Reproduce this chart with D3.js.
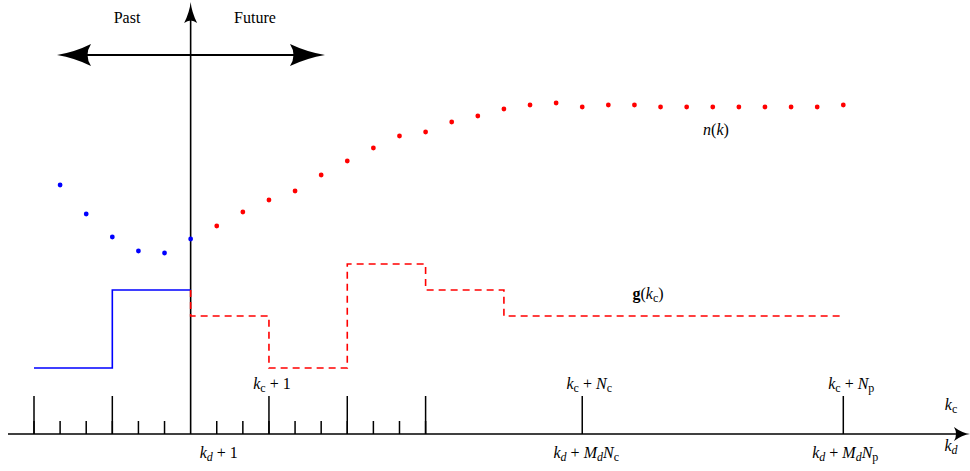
<!DOCTYPE html>
<html><head><meta charset="utf-8">
<script src="https://cdn.jsdelivr.net/npm/d3@7"></script>
<style>
html,body{margin:0;padding:0;background:#fff;}
svg{display:block;font-family:"Liberation Serif","Times New Roman",serif;}
</style></head>
<body><svg id="c" width="970" height="471"></svg>
<script>
// ---- data (k in k_d sample units, value = height above the time axis) ----
const pastK = [-5, -4, -3, -2, -1, 0];
const pastN = [249, 220, 197, 183, 181, 195];
const futureK = [1,2,3,4,5,6,7,8,9,10,11,12,13,14,15,16,17,18,19,20,21,22,23,24,25];
const futureN = [208, 222, 234, 243, 259, 273, 286, 298, 302, 312, 318, 325, 329, 331, 327, 329, 329, 327, 327, 327, 327, 327, 327, 327, 329];
const gPastK = [-6, -3, 0];
const gPastV = [66, 144, 144];
const gFutK = [0, 0, 3, 6, 9, 12, 25];
const gFutV = [144, 118, 66, 170, 144, 118, 118];
const minorTicks = [-6,-5,-4,-3,-2,-1,1,2,3,4,5,6,7,8,9];
const majorTicks = [-6,-3,3,6,9,15,25];
const topLabels = [{k:3, parts:[["k","i"],["c","su"],[" + 1","n"]], dx:3},
                   {k:15, parts:[["k","i"],["c","su"],[" + ","n"],["N","i"],["c","su"]], dx:7},
                   {k:25, parts:[["k","i"],["c","su"],[" + ","n"],["N","i"],["p","su"]], dx:8}];
const botLabels = [{k:1, parts:[["k","i"],["d","s"],[" + 1","n"]], dx:2},
                   {k:15, parts:[["k","i"],["d","s"],[" + ","n"],["M","i"],["d","s"],["N","i"],["c","su"]], dx:4},
                   {k:25, parts:[["k","i"],["d","s"],[" + ","n"],["M","i"],["d","s"],["N","i"],["p","su"]], dx:2}];

const svg = d3.select("#c");
const x = d3.scaleLinear().domain([-6, 25]).range([34, 843.3]);
const y = d3.scaleLinear().domain([0, 434]).range([434, 0]);
const x0 = x(0), yA = y(0);
const FS = 16, SFS = 12;

// time axis
svg.append("line").attr("x1", 8).attr("x2", 960).attr("y1", yA).attr("y2", yA)
  .attr("stroke", "#000").attr("stroke-width", 1.6);
svg.append("path").attr("d", `M970,${yA} Q962,${yA-1} 954,${yA-7} Q958,${yA} 954,${yA+7} Q962,${yA+1} 970,${yA} Z`).attr("fill","#000");

// vertical "now" axis
svg.append("line").attr("x1", x0).attr("x2", x0).attr("y1", yA).attr("y2", 14)
  .attr("stroke", "#000").attr("stroke-width", 1.6);
svg.append("path").attr("d", `M${x0},2 Q${x0+1},12 ${x0+6.5},23 Q${x0},18 ${x0-6.5},23 Q${x0-1},12 ${x0},2 Z`).attr("fill","#000");

// ticks
svg.selectAll(".mt").data(minorTicks).enter().append("line")
  .attr("x1", d => x(d)).attr("x2", d => x(d)).attr("y1", yA).attr("y2", yA - 13)
  .attr("stroke", "#000").attr("stroke-width", 1.5);
svg.selectAll(".Mt").data(majorTicks).enter().append("line")
  .attr("x1", d => x(d)).attr("x2", d => x(d)).attr("y1", yA).attr("y2", yA - 38)
  .attr("stroke", "#000").attr("stroke-width", 1.5);

// Past / Future double arrow
const ay = 55;
svg.append("line").attr("x1", 80).attr("x2", 302).attr("y1", ay).attr("y2", ay)
  .attr("stroke", "#000").attr("stroke-width", 2);
svg.append("path").attr("d", `M57,${ay} Q75,${ay-3} 91,${ay-11} Q84,${ay} 91,${ay+11} Q75,${ay+3} 57,${ay} Z`).attr("fill","#000");
svg.append("path").attr("d", `M325,${ay} Q307,${ay-3} 290,${ay-11} Q297,${ay} 290,${ay+11} Q307,${ay+3} 325,${ay} Z`).attr("fill","#000");
svg.append("text").attr("x", 127).attr("y", 22.5).attr("text-anchor","middle").attr("font-size",FS).text("Past");
svg.append("text").attr("x", 255).attr("y", 22.5).attr("text-anchor","middle").attr("font-size",FS).text("Future");

// step signals
const step = d3.line().x(d => x(d[0])).y(d => y(d[1])).curve(d3.curveStepAfter);
svg.append("path").attr("d", step(d3.zip(gPastK, gPastV))).attr("fill","none")
  .attr("stroke","#0000ff").attr("stroke-width",1.6);
svg.append("path").attr("d", step(d3.zip(gFutK, gFutV))).attr("fill","none")
  .attr("stroke","#ff0000").attr("stroke-width",1.6).attr("stroke-dasharray","7,5");

// dots
svg.selectAll(".pd").data(d3.zip(pastK, pastN)).enter().append("circle")
  .attr("cx", d => x(d[0])).attr("cy", d => y(d[1])).attr("r", 2.4).attr("fill","#0000ff");
svg.selectAll(".fd").data(d3.zip(futureK, futureN)).enter().append("circle")
  .attr("cx", d => x(d[0])).attr("cy", d => y(d[1])).attr("r", 2.4).attr("fill","#ff0000");

// labels helper
function mathText(xp, yp, parts, anchor) {
  const t = svg.append("text").attr("x", xp).attr("y", yp).attr("text-anchor", anchor || "middle").attr("font-size", FS);
  let shifted = false;
  parts.forEach(([s, style]) => {
    const ts = t.append("tspan").text(s);
    if (style === "i") ts.attr("font-style","italic");
    if (style === "b") ts.attr("font-weight","bold");
    if (style === "s" || style === "su") {
      ts.attr("font-size", SFS).attr("dy", shifted ? 0 : 3);
      if (style === "s") ts.attr("font-style","italic");
      shifted = true;
    } else if (shifted) {
      ts.attr("dy", -3); shifted = false;
    }
  });
  return t;
}
topLabels.forEach(l => mathText(x(l.k) + l.dx, 389, l.parts));
botLabels.forEach(l => mathText(x(l.k) + l.dx, 458, l.parts));

mathText(951, 410, [["k","i"],["c","su"]]);
mathText(951, 451, [["k","i"],["d","s"]]);
mathText(716, 135, [["n","i"],["(","n"],["k","i"],[")","n"]]);
mathText(648, 299, [["g","b"],["(","n"],["k","i"],["c","su"],[")","n"]]);
</script></body></html>
